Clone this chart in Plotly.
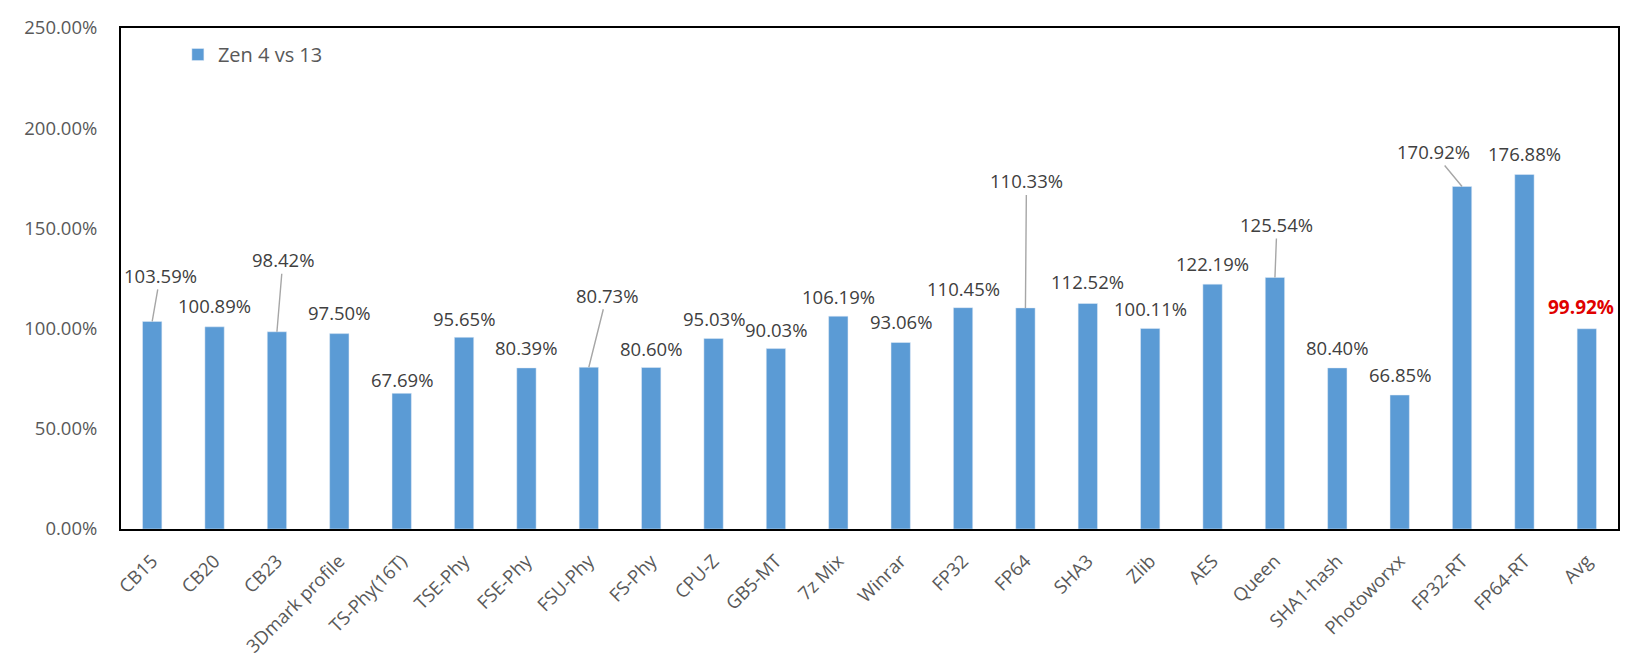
import plotly.graph_objects as go

categories = ["CB15", "CB20", "CB23", "3Dmark profile", "TS-Phy(16T)", "TSE-Phy", "FSE-Phy",
              "FSU-Phy", "FS-Phy", "CPU-Z", "GB5-MT", "7z Mix", "Winrar", "FP32", "FP64", "SHA3",
              "Zlib", "AES", "Queen", "SHA1-hash", "Photoworxx", "FP32-RT", "FP64-RT", "Avg"]
values = [103.59, 100.89, 98.42, 97.50, 67.69, 95.65, 80.39, 80.73, 80.60, 95.03, 90.03, 106.19,
          93.06, 110.45, 110.33, 112.52, 100.11, 122.19, 125.54, 80.40, 66.85, 170.92, 176.88, 99.92]
series_name = "Zen 4 vs 13"
y_ticks = [0, 50, 100, 150, 200, 250]
y_tick_labels = ["0.00%", "50.00%", "100.00%", "150.00%", "200.00%", "250.00%"]

# label placement relative to bar top (pixels): (dx, dy, leader line?)
label_offsets = [(8, -46, True), (0, -21, False), (6, -72, True), (0, -21, False), (0, -14, False),
                 (0, -19, False), (0, -20, False), (18, -72, True), (0, -19, False), (0, -20, False),
                 (0, -19, False), (0, -20, False), (0, -21, False), (0, -19, False), (1, -127, True),
                 (0, -22, False), (0, -20, False), (0, -21, False), (2, -53, True), (0, -20, False),
                 (0, -21, False), (-29, -35, True), (0, -21, False), (-6, -22, False)]

FONT = "Open Sans, Segoe UI, Arial, sans-serif"
BAR_COLOR = "#5B9BD5"

fig = go.Figure()
fig.add_trace(go.Bar(x=categories, y=values, name=series_name, marker_color=BAR_COLOR,
                     showlegend=True))

annotations = []
for i, (c, v) in enumerate(zip(categories, values)):
    dx, dy, leader = label_offsets[i]
    is_avg = (c == "Avg")
    txt = f"{v:.2f}%"
    if is_avg:
        txt = f"<b>{txt}</b>"
    font = dict(family=FONT, size=19 if is_avg else 18.5,
                color="#E00000" if is_avg else "#404040")
    if leader:
        annotations.append(dict(x=c, y=v, xref="x", yref="y", text=txt, showarrow=True,
                                arrowhead=0, arrowwidth=1.4, arrowcolor="#A6A6A6",
                                ax=dx, ay=dy, standoff=0, font=font))
    else:
        annotations.append(dict(x=c, y=v, xref="x", yref="y", text=txt, showarrow=False,
                                xanchor="center", yanchor="middle", xshift=dx, yshift=-dy,
                                font=font))

fig.update_layout(
    width=1626, height=669,
    margin=dict(l=121, r=6, t=28, b=140),
    paper_bgcolor="white", plot_bgcolor="white",
    bargap=0.69,
    annotations=annotations,
    legend=dict(x=0.038, y=0.986, xanchor="left", yanchor="top", bgcolor="rgba(0,0,0,0)",
                font=dict(family=FONT, size=20, color="#595959")),
    font=dict(family=FONT, color="#595959"),
)
fig.update_yaxes(range=[0, 250], tickvals=y_ticks, ticktext=y_tick_labels,
                 showgrid=False, zeroline=False, showline=True, mirror=True,
                 linecolor="black", linewidth=2, ticks="", ticklabelstandoff=18,
                 tickfont=dict(family=FONT, size=18.5, color="#595959"))
fig.update_xaxes(tickangle=-45, showgrid=False, showline=True, mirror=True,
                 linecolor="black", linewidth=2, ticks="", ticklabelstandoff=12,
                 tickfont=dict(family=FONT, size=18.5, color="#595959"))

fig.write_html("out.html", config={"displayModeBar": False},
               post_script="document.body.style.margin='0';document.body.style.overflow='hidden';")
